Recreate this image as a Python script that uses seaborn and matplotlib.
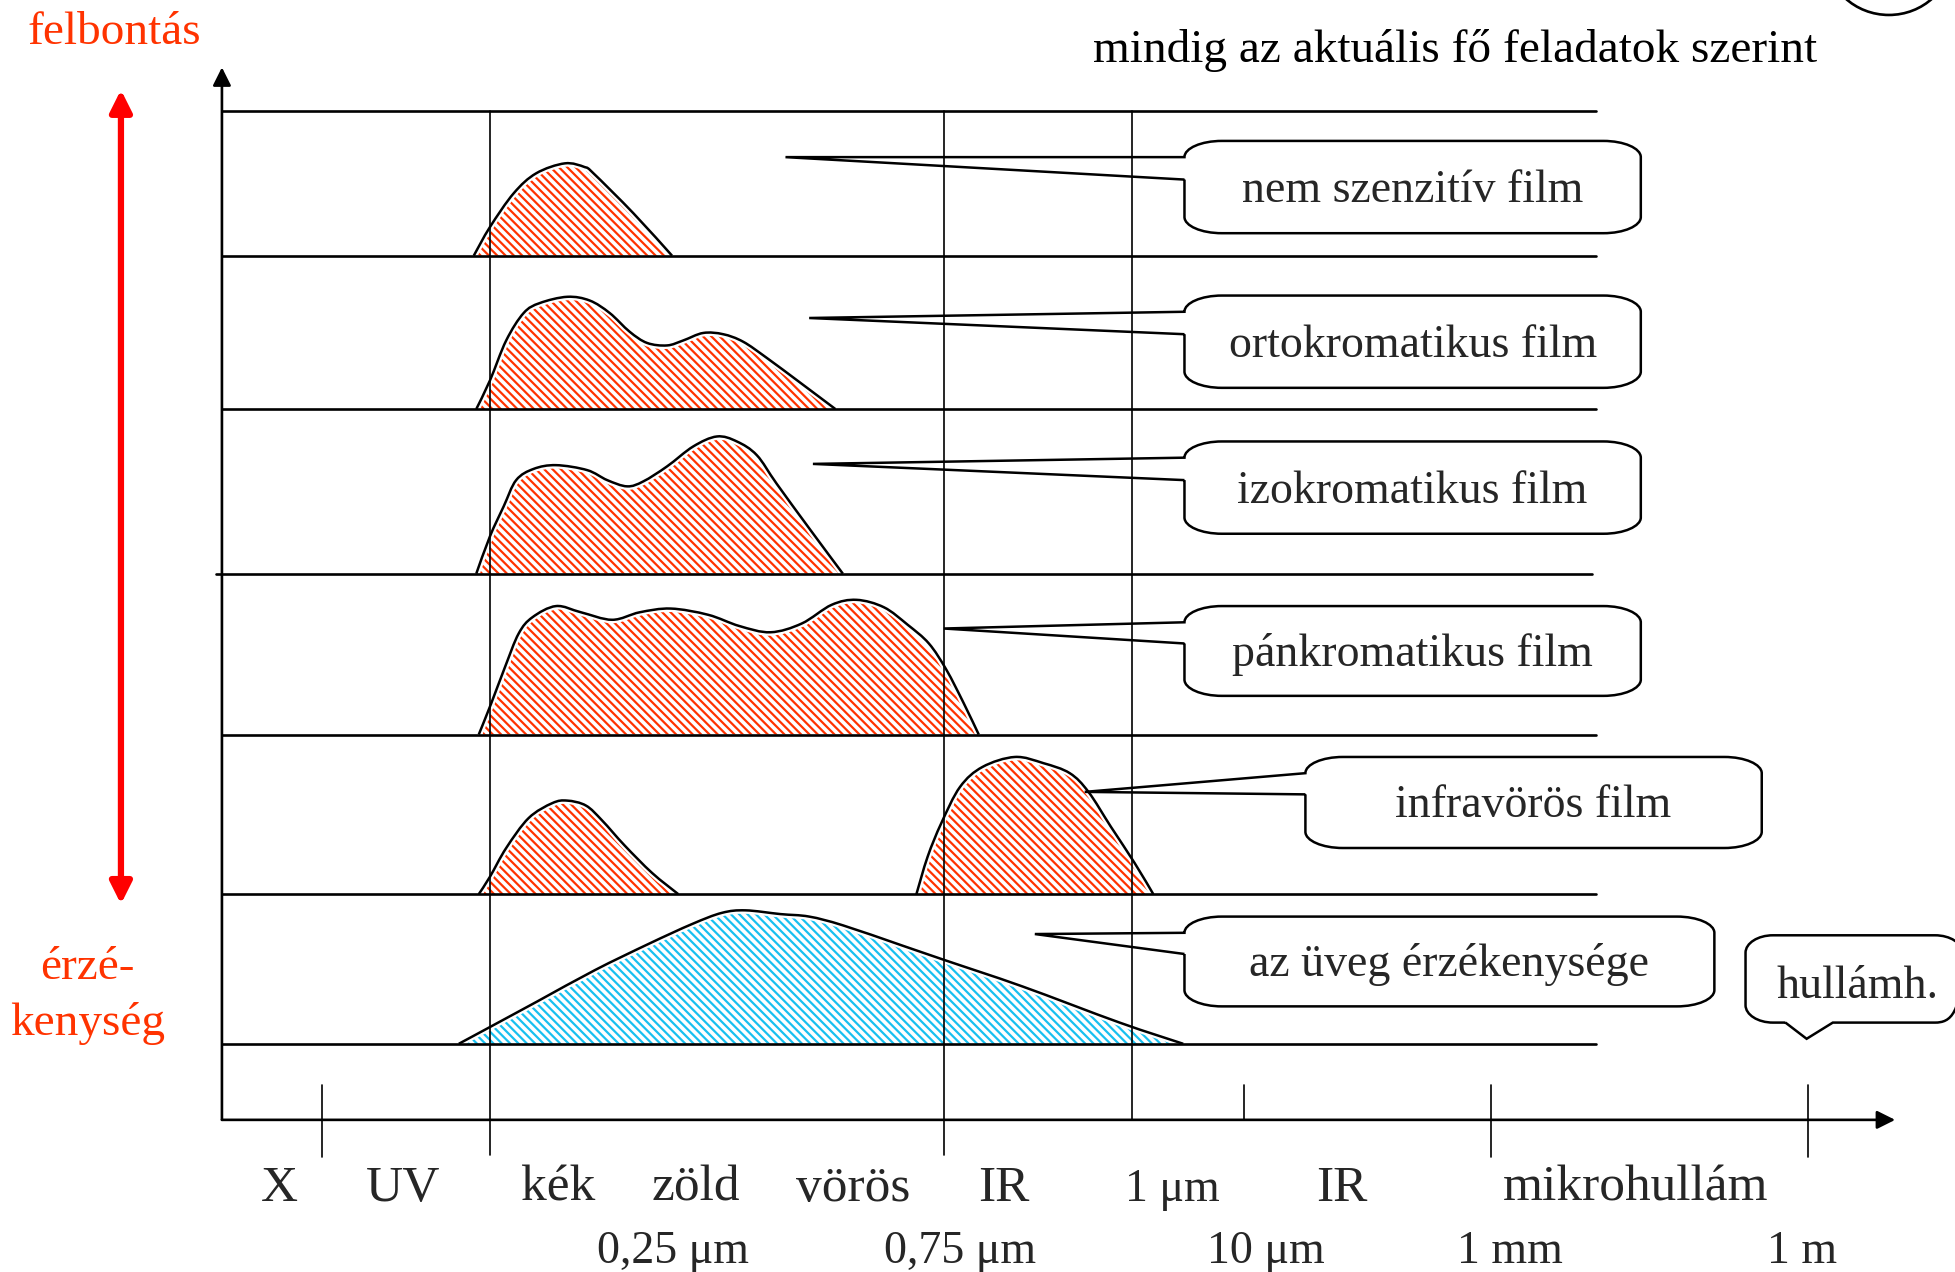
import numpy as np
import pandas as pd
import seaborn as sns
import matplotlib.pyplot as plt
import matplotlib.patheffects as pe
from matplotlib.patches import FancyArrowPatch, PathPatch, Ellipse
from matplotlib.path import Path

# film sensitivity curves: position on the spectrum axis and height above the row baseline
nem_x = [380, 393, 412, 430, 453, 469, 476, 508, 539]
nem_h = [0, 23, 50, 66, 74, 71, 66, 34, 0]

orto_x = [382, 393, 406, 420, 433, 455, 473, 489, 505, 519, 535, 548, 564, 580, 596, 615, 642, 670]
orto_h = [0, 23, 55, 77, 85, 90, 87, 77, 62, 53, 51, 55, 61, 60, 54, 41, 21, 0]

izo_x = [382, 393, 404, 414, 428, 446, 471, 487, 503, 516, 535, 556, 575, 591, 607, 623, 650, 676]
izo_h = [0, 30, 54, 75, 84, 87, 83, 75, 70, 74, 86, 102, 110, 106, 95, 72, 35, 0]

pan_x = [384, 394, 405, 416, 427, 446, 466, 491, 513, 538, 568, 593, 618, 643, 667, 687, 709,
         728, 745, 759, 773, 785]
pan_h = [0, 25, 54, 81, 94, 103, 98, 92, 98, 101, 96, 87, 82, 89, 104, 108, 102, 88, 73, 52, 25, 0]

infra_kek_x = [384, 393, 406, 424, 443, 455, 470, 483, 501, 523, 544]
infra_kek_h = [0, 14, 37, 61, 73, 75, 71, 59, 39, 17, 0]
infra_ir_x = [735, 744, 755, 770, 788, 814, 837, 858, 873, 891, 910, 925]
infra_ir_h = [0, 30, 57, 86, 102, 110, 105, 97, 82, 54, 25, 0]

uveg_x = [368, 394, 431, 477, 520, 555, 579, 598, 626, 649, 676, 723, 758, 820, 898, 949]
uveg_h = [0, 14, 34, 59, 80, 96, 105, 107, 104, 102, 95, 79, 67, 46, 17, 0]

film_labels = ["nem szenzitív film", "ortokromatikus film", "izokromatikus film",
               "pánkromatikus film", "infravörös film", "az üveg érzékenysége"]

band_labels = ["X", "UV", "kék", "zöld", "vörös", "IR", "1 μm", "IR", "mikrohullám"]
band_pos = [224, 323, 448, 558, 684, 805, 940, 1076, 1312]
wave_labels = ["0,25 μm", "0,75 μm", "10 μm", "1 mm", "1 m"]
wave_pos = [540, 770, 1015, 1211, 1445]

RED = "#FF0000"
TXT_RED = "#FF3300"
HATCH_RED = "#FF3300"
HATCH_BLUE = "#18C0F0"

sns.set_theme(style="white")
plt.rcParams['font.family'] = ['Liberation Serif', 'DejaVu Serif']
plt.rcParams['hatch.linewidth'] = 1.6

fig = plt.figure(figsize=(19.55, 12.72), dpi=100)
ax = fig.add_axes([0, 0, 1, 1])
ax.set_xlim(0, 1568)
ax.set_ylim(1020, 0)
ax.axis('off')


def smooth_path(xs, ys, close=False):
    # Catmull-Rom through the read points, drawn as cubic Bezier segments
    p = np.column_stack([xs, ys]).astype(float)
    ext = np.vstack([p[0], p, p[-1]])
    verts = [tuple(p[0])]
    codes = [Path.MOVETO]
    for i in range(1, len(ext) - 2):
        c1 = ext[i] + (ext[i + 1] - ext[i - 1]) / 6
        c2 = ext[i + 1] - (ext[i + 2] - ext[i]) / 6
        verts += [tuple(c1), tuple(c2), tuple(ext[i + 1])]
        codes += [Path.CURVE4] * 3
    if close:
        verts.append(tuple(p[0]))
        codes.append(Path.CLOSEPOLY)
    return Path(verts, codes)


# row layout
row_top = 89
baselines = [205, 328, 460, 589, 717, 837]
curves = [
    (0, nem_x, nem_h, HATCH_RED),
    (1, orto_x, orto_h, HATCH_RED),
    (2, izo_x, izo_h, HATCH_RED),
    (3, pan_x, pan_h, HATCH_RED),
    (4, infra_kek_x, infra_kek_h, HATCH_RED),
    (4, infra_ir_x, infra_ir_h, HATCH_RED),
    (5, uveg_x, uveg_h, HATCH_BLUE),
]

for row, xs, hs, col in curves:
    base = baselines[row]
    df = pd.DataFrame({'x': xs, 'y': base - np.array(hs)})
    ax.add_patch(PathPatch(smooth_path(df['x'], df['y'], close=True), facecolor='white',
                           edgecolor=col, hatch='\\\\\\\\', linewidth=0, zorder=2))
    ax.add_patch(PathPatch(smooth_path(df['x'], df['y']), facecolor='none', edgecolor='black',
                           linewidth=1.8, zorder=3,
                           path_effects=[pe.Stroke(linewidth=5, foreground='white'), pe.Normal()]))

# grid lines
hl_kw = dict(color='black', linewidth=1.9, zorder=4)
ax.plot([178, 1280], [row_top, row_top], **hl_kw)
for i, b in enumerate(baselines):
    if i == 2:
        ax.plot([173, 1277], [b, b], **hl_kw)
    else:
        ax.plot([178, 1280], [b, b], **hl_kw)

vl_kw = dict(color='black', linewidth=1.2, zorder=4)
ax.plot([393, 393], [row_top, 926], **vl_kw)
ax.plot([757, 757], [row_top, 926], **vl_kw)
ax.plot([908, 908], [row_top, 898], **vl_kw)
for tx, y0, y1 in [(258, 870, 928), (998, 870, 898), (1196, 870, 928), (1450, 870, 928)]:
    ax.plot([tx, tx], [y0, y1], **vl_kw)

# axes arrows
for a, b in [((178, 898), (178, 54)), ((178, 898), (1520, 898))]:
    ax.add_patch(FancyArrowPatch(a, b, arrowstyle='-|>,head_length=11,head_width=5.5',
                                 color='black', linewidth=1.9, shrinkA=0, shrinkB=0,
                                 mutation_scale=1, zorder=5))

# red double arrow
ax.add_patch(FancyArrowPatch((97, 725), (97, 72), arrowstyle='<|-|>,head_length=13,head_width=6.5',
                             color=RED, linewidth=4.5, shrinkA=0, shrinkB=0,
                             mutation_scale=1, zorder=5))

ax.text(22, 35, "felbontás", color=TXT_RED, fontsize=34, ha='left', va='baseline')
ax.text(70, 785, "érzé-", color=TXT_RED, fontsize=34, ha='center', va='baseline')
ax.text(70, 830, "kenység", color=TXT_RED, fontsize=34, ha='center', va='baseline')
ax.text(1167, 50, "mindig az aktuális fő feladatok szerint", color='black', fontsize=34,
        ha='center', va='baseline')

# partial circle in the top-right corner
ax.add_patch(Ellipse((1515, -35), 100, 94, facecolor='none', edgecolor='black',
                     linewidth=1.9, zorder=5))

# bottom labels
for lab, x in zip(band_labels, band_pos):
    fs = 33 if 'μ' in lab else 37
    ax.text(x, 963, lab, fontsize=fs, ha='center', va='baseline')
for lab, x in zip(wave_labels, wave_pos):
    ax.text(x, 1013, lab, fontsize=33, ha='center', va='baseline')


def corner(p, c, q, k=0.55):
    return [(p[0] + k * (c[0] - p[0]), p[1] + k * (c[1] - p[1])),
            (q[0] + k * (c[0] - q[0]), q[1] + k * (c[1] - q[1])), q]


def box_path(x0, y0, x1, y1, rx, ry):
    v = [(x0, y0 + ry)]
    c = [Path.MOVETO]
    v += corner((x0, y0 + ry), (x0, y0), (x0 + rx, y0)); c += [Path.CURVE4] * 3
    v += [(x1 - rx, y0)]; c += [Path.LINETO]
    v += corner((x1 - rx, y0), (x1, y0), (x1, y0 + ry)); c += [Path.CURVE4] * 3
    v += [(x1, y1 - ry)]; c += [Path.LINETO]
    v += corner((x1, y1 - ry), (x1, y1), (x1 - rx, y1)); c += [Path.CURVE4] * 3
    v += [(x0 + rx, y1)]; c += [Path.LINETO]
    v += corner((x0 + rx, y1), (x0, y1), (x0, y1 - ry)); c += [Path.CURVE4] * 3
    v += [(x0, y0 + ry)]; c += [Path.CLOSEPOLY]
    return Path(v, c)


def left_tail_outline(x0, y0, x1, y1, rx, ry, ya, yb, tip):
    v = [(x0, yb)]
    c = [Path.MOVETO]
    v += [(x0, y1 - ry)]; c += [Path.LINETO]
    v += corner((x0, y1 - ry), (x0, y1), (x0 + rx, y1)); c += [Path.CURVE4] * 3
    v += [(x1 - rx, y1)]; c += [Path.LINETO]
    v += corner((x1 - rx, y1), (x1, y1), (x1, y1 - ry)); c += [Path.CURVE4] * 3
    v += [(x1, y0 + ry)]; c += [Path.LINETO]
    v += corner((x1, y0 + ry), (x1, y0), (x1 - rx, y0)); c += [Path.CURVE4] * 3
    v += [(x0 + rx, y0)]; c += [Path.LINETO]
    v += corner((x0 + rx, y0), (x0, y0), (x0, y0 + ry)); c += [Path.CURVE4] * 3
    v += [(x0, ya), tip, (x0, yb)]; c += [Path.LINETO] * 3
    return Path(v, c)


def bottom_tail_outline(x0, y0, x1, y1, rx, ry, xa, xb, tip):
    v = [(xa, y1)]
    c = [Path.MOVETO]
    v += [(x0 + rx, y1)]; c += [Path.LINETO]
    v += corner((x0 + rx, y1), (x0, y1), (x0, y1 - ry)); c += [Path.CURVE4] * 3
    v += [(x0, y0 + ry)]; c += [Path.LINETO]
    v += corner((x0, y0 + ry), (x0, y0), (x0 + rx, y0)); c += [Path.CURVE4] * 3
    v += [(x1 - rx, y0)]; c += [Path.LINETO]
    v += corner((x1 - rx, y0), (x1, y0), (x1, y0 + ry)); c += [Path.CURVE4] * 3
    v += [(x1, y1 - ry)]; c += [Path.LINETO]
    v += corner((x1, y1 - ry), (x1, y1), (x1 - rx, y1)); c += [Path.CURVE4] * 3
    v += [(xb, y1), tip, (xa, y1)]; c += [Path.LINETO] * 3
    return Path(v, c)


# callouts: box (x0, y0, x1, y1), tail attach ya, yb, tail tip
callouts = [
    ((950, 113, 1316, 187), 126, 144, (630, 126)),
    ((950, 237, 1316, 311), 250, 268, (649, 255)),
    ((950, 354, 1316, 428), 367, 385, (652, 372)),
    ((950, 486, 1316, 558), 499, 516, (757, 504)),
    ((1047, 607, 1413, 680), 620, 637, (870, 635)),
    ((950, 735, 1375, 807), 748, 765, (830, 749)),
]
RX, RY = 30, 13
for lab, (bx, ya, yb, tip) in zip(film_labels, callouts):
    x0, y0, x1, y1 = bx
    ax.add_patch(PathPatch(box_path(x0, y0, x1, y1, RX, RY), facecolor='white',
                           edgecolor='none', zorder=6))
    ax.add_patch(PathPatch(left_tail_outline(x0, y0, x1, y1, RX, RY, ya, yb, tip),
                           facecolor='none', edgecolor='black', linewidth=1.8, zorder=7))
    ax.text((x0 + x1) / 2, (y0 + y1) / 2 + 12, lab, fontsize=33, ha='center',
            va='baseline', zorder=8)

# wavelength callout
hx0, hy0, hx1, hy1 = 1400, 750, 1574, 820
ax.add_patch(PathPatch(box_path(hx0, hy0, hx1, hy1, 22, 14), facecolor='white',
                       edgecolor='none', zorder=6))
ax.add_patch(PathPatch(bottom_tail_outline(hx0, hy0, hx1, hy1, 22, 14, 1432, 1470, (1449, 833)),
                       facecolor='none', edgecolor='black', linewidth=1.8, zorder=7))
ax.text(1490, 800, "hullámh.", fontsize=33, ha='center', va='baseline', zorder=8)

fig.savefig('out.png', dpi=100)
